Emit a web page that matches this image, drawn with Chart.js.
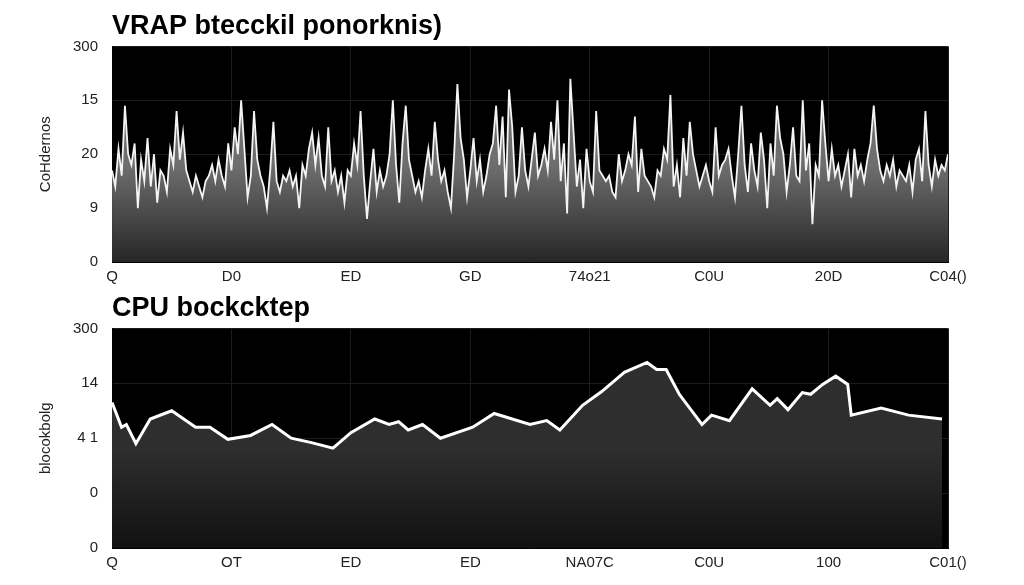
<!DOCTYPE html>
<html>
<head>
<meta charset="utf-8">
<script src="https://cdn.jsdelivr.net/npm/chart.js@4/dist/chart.umd.min.js"></script>
<style>
  body { margin: 0; background: #fff; width: 1024px; height: 585px; overflow: hidden; }
  .box { position: absolute; left: 0; width: 1024px; }
  #b1 { top: 0; height: 292px; }
  #b2 { top: 282px; height: 303px; }
</style>
</head>
<body>
<div class="box" id="b1"><canvas id="topChart"></canvas></div>
<div class="box" id="b2"><canvas id="bottomChart"></canvas></div>
<script>
// tick labels as printed in the picture
const topXLabels = ['Q', 'D0', 'ED', 'GD', '74o21', 'C0U', '20D', 'C04()'];
const topYLabels = ['0', '9', '20', '15', '300'];
const bottomXLabels = ['Q', 'OT', 'ED', 'ED', 'NA07C', 'C0U', '100', 'C01()'];
const bottomYLabels = ['0', '0', '4 1', '14', '300'];

// top series, read left to right (axis units 0..4)
const topValues = [
  1.7, 1.4, 2.1, 1.6, 2.9, 2.0, 1.8, 2.2, 1.0, 1.9, 1.5, 2.3, 1.4, 2.0, 1.1, 1.7,
  1.6, 1.3, 2.1, 1.8, 2.8, 1.9, 2.4, 1.7, 1.5, 1.3, 1.6, 1.4, 1.2, 1.5, 1.6, 1.8,
  1.5, 1.9, 1.6, 1.4, 2.2, 1.7, 2.5, 2.0, 3.0, 2.1, 1.2, 1.6, 2.8, 1.9, 1.6, 1.4,
  1.0, 1.7, 2.6, 1.5, 1.3, 1.6, 1.5, 1.7, 1.4, 1.6, 1.0, 1.8, 1.6, 2.1, 2.4, 1.8,
  2.3, 1.6, 1.4, 2.5, 1.5, 1.7, 1.3, 1.6, 1.1, 1.7, 1.6, 2.2, 1.8, 2.8, 1.6, 0.8,
  1.5, 2.1, 1.3, 1.7, 1.4, 1.6, 2.0, 3.0, 1.8, 1.1, 2.2, 2.9, 1.9, 1.6, 1.3, 1.5,
  1.2, 1.7, 2.1, 1.6, 2.6, 1.9, 1.5, 1.7, 1.3, 1.0, 2.0, 3.3, 2.3, 1.9, 1.2, 1.7,
  2.3, 1.5, 1.9, 1.3, 1.6, 2.0, 2.2, 2.9, 1.8, 2.7, 1.2, 3.2, 2.5, 1.3, 1.6, 2.5,
  1.7, 1.4, 1.9, 2.4, 1.6, 1.8, 2.1, 1.7, 2.6, 1.9, 3.0, 1.5, 2.2, 0.9, 3.4, 2.4,
  1.4, 1.9, 1.0, 2.1, 1.5, 1.3, 2.8, 1.7, 1.6, 1.5, 1.6, 1.3, 1.2, 2.0, 1.5, 1.7,
  2.0, 1.8, 2.7, 1.3, 2.1, 1.6, 1.5, 1.4, 1.2, 1.7, 1.6, 2.1, 1.9, 3.1, 1.4, 1.8,
  1.2, 2.3, 1.6, 2.6, 2.0, 1.7, 1.4, 1.6, 1.8, 1.5, 1.3, 2.5, 1.6, 1.8, 1.9, 2.1,
  1.6, 1.2, 2.0, 2.9, 1.8, 1.3, 2.2, 1.7, 1.4, 2.4, 1.9, 1.0, 2.2, 1.6, 2.9, 2.3,
  2.0, 1.3, 1.8, 2.5, 1.6, 1.5, 3.0, 1.7, 2.2, 0.7, 1.8, 1.6, 3.0, 2.2, 1.5, 2.1,
  1.6, 1.8, 1.4, 1.7, 2.0, 1.2, 2.1, 1.6, 1.8, 1.5, 1.9, 2.2, 2.9, 2.1, 1.7, 1.5,
  1.8, 1.6, 1.9, 1.4, 1.7, 1.6, 1.5, 1.8, 1.3, 1.9, 2.1, 1.5, 2.8, 1.8, 1.4, 1.9,
  1.6, 1.8, 1.7, 2.0
];

// bottom series: [x position on axis 0..7, value 0..4]
const bottomX = [0, 0.08, 0.12, 0.2, 0.32, 0.5, 0.7, 0.82, 0.97, 1.16, 1.34, 1.5, 1.67, 1.85,
  2.0, 2.2, 2.32, 2.4, 2.48, 2.6, 2.75, 3.02, 3.2, 3.5, 3.64, 3.75, 3.94, 4.1, 4.29, 4.48,
  4.56, 4.64, 4.75, 4.94, 5.02, 5.17, 5.36, 5.51, 5.57, 5.66, 5.78, 5.85, 5.95, 6.06, 6.16,
  6.19, 6.44, 6.67, 6.95];
const bottomValues = [2.65, 2.2, 2.25, 1.9, 2.35, 2.5, 2.2, 2.2, 1.98, 2.05, 2.25, 2.0, 1.92,
  1.82, 2.1, 2.35, 2.25, 2.3, 2.15, 2.25, 2.0, 2.2, 2.45, 2.25, 2.32, 2.15, 2.6, 2.85, 3.2,
  3.38, 3.25, 3.25, 2.8, 2.25, 2.42, 2.32, 2.9, 2.6, 2.72, 2.52, 2.83, 2.8, 2.98, 3.13, 2.98,
  2.42, 2.55, 2.42, 2.35];

const bgPlugin = {
  id: 'plotBg',
  beforeDraw(chart) {
    const { ctx, chartArea: a } = chart;
    ctx.save();
    ctx.fillStyle = '#000';
    ctx.fillRect(a.left, a.top, a.width, a.height);
    ctx.restore();
  }
};

function fillGradient(ctx, area, top, bottom) {
  const g = ctx.createLinearGradient(0, area.top, 0, area.bottom);
  g.addColorStop(0, top);
  g.addColorStop(0.55, top);
  g.addColorStop(1, bottom);
  return g;
}

function makeOptions(title, yTitle, xLabels, yLabels, titleSize, bottomPad) {
  return {
    responsive: true,
    maintainAspectRatio: false,
    animation: false,
    layout: { padding: { left: 33, right: 76, top: 4, bottom: bottomPad } },
    plugins: {
      legend: { display: false },
      tooltip: { enabled: false },
      title: {
        display: true, text: title, align: 'start', fullSize: false,
        color: '#000', font: { family: 'Liberation Sans', size: titleSize, weight: 'bold' },
        padding: { top: 6, bottom: 4 }
      }
    },
    scales: {
      x: {
        type: 'linear', min: 0, max: 7,
        grid: { color: '#1c1c1c', drawTicks: false },
        border: { color: '#000' },
        ticks: {
          stepSize: 1, color: '#222', padding: 6,
          font: { family: 'Liberation Sans', size: 15 },
          callback: v => xLabels[v] ?? ''
        }
      },
      y: {
        min: 0, max: 4,
        grid: { color: '#1c1c1c', drawTicks: false },
        border: { color: '#000' },
        ticks: {
          stepSize: 1, color: '#222', padding: 14,
          font: { family: 'Liberation Sans', size: 15 },
          callback: v => yLabels[v] ?? ''
        },
        title: {
          display: true, text: yTitle, color: '#222',
          font: { family: 'Liberation Sans', size: 15 }
        }
      }
    }
  };
}

const topPoints = topValues.map((v, i) => ({ x: i * 7 / (topValues.length - 1), y: v }));
new Chart(document.getElementById('topChart'), {
  type: 'line',
  data: {
    datasets: [{
      data: topPoints,
      borderColor: '#f4f4f4',
      borderWidth: 1.8,
      pointRadius: 0,
      tension: 0,
      fill: 'origin',
      backgroundColor: c => c.chart.chartArea
        ? fillGradient(c.chart.ctx, c.chart.chartArea, '#6e6e6e', '#262626') : '#555'
    }]
  },
  options: makeOptions('VRAP btecckil ponorknis)', 'CoHdernos', topXLabels, topYLabels, 27, 0),
  plugins: [bgPlugin]
});

const bottomPoints = bottomX.map((x, i) => ({ x, y: bottomValues[i] }));
new Chart(document.getElementById('bottomChart'), {
  type: 'line',
  data: {
    datasets: [{
      data: bottomPoints,
      borderColor: '#fff',
      borderWidth: 3,
      pointRadius: 0,
      tension: 0,
      fill: 'origin',
      backgroundColor: c => c.chart.chartArea
        ? fillGradient(c.chart.ctx, c.chart.chartArea, '#2e2e2e', '#111') : '#222'
    }]
  },
  options: makeOptions('CPU bockcktep', 'blocokbolg', bottomXLabels, bottomYLabels, 27, 7),
  plugins: [bgPlugin]
});
</script>
</body>
</html>
